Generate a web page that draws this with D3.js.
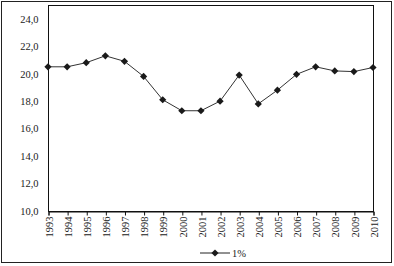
<!DOCTYPE html>
<html>
<head>
<meta charset="utf-8">
<script src="https://cdn.jsdelivr.net/npm/d3@7"></script>
<style>
body { margin: 0; background: #fff; }
svg text { font-family: "Liberation Serif", "Times New Roman", serif; fill: #222; }
</style>
</head>
<body>
<svg id="chart" width="394" height="266"></svg>
<script>
var years = [1993, 1994, 1995, 1996, 1997, 1998, 1999, 2000, 2001, 2002,
	2003, 2004, 2005, 2006, 2007, 2008, 2009, 2010];
var values = [20.5, 20.5, 20.8, 21.3, 20.9, 19.8, 18.1, 17.3, 17.3, 18.0,
	19.9, 17.8, 18.8, 19.95, 20.5, 20.2, 20.15, 20.45];
var yTicks = [10, 12, 14, 16, 18, 20, 22, 24];
var seriesName = '1%';

var svg = d3.select('#chart');

var startx = 48, endx = 373;
var starty = 5, endy = 211;

// outer frame
svg.append('rect')
	.attr('x', 1.5).attr('y', 1.5)
	.attr('width', 390).attr('height', 261)
	.attr('fill', 'none')
	.attr('stroke', '#222')
	.attr('stroke-width', 1);

var xscale = d3.scalePoint()
	.domain(years)
	.range([startx, endx]);

var yscale = d3.scaleLinear()
	.domain([10, 25])
	.range([endy, starty]);

// plot box
svg.append('rect')
	.attr('x', startx + 0.5).attr('y', starty + 0.5)
	.attr('width', endx - startx).attr('height', endy - starty)
	.attr('fill', 'none')
	.attr('stroke', '#111')
	.attr('stroke-width', 1);

var yaxis = d3.axisLeft(yscale)
	.tickValues(yTicks)
	.tickSize(0)
	.tickPadding(10)
	.tickFormat(d => d3.format('.1f')(d).replace('.', ','));

var gy = svg.append('g')
	.attr('transform', 'translate(' + (startx + 0.5) + ',0)')
	.call(yaxis);
gy.select('.domain').remove();
gy.selectAll('text').style('font-size', '10.5px');

var xaxis = d3.axisBottom(xscale)
	.tickSize(4)
	.tickPadding(4);

var gx = svg.append('g')
	.attr('transform', 'translate(0.5,' + (endy + 0.5) + ')')
	.call(xaxis);
gx.select('.domain').attr('stroke', '#111');
gx.selectAll('.tick line').attr('stroke', '#111');
gx.selectAll('text')
	.style('font-size', '10.5px')
	.attr('transform', 'rotate(-90)')
	.attr('text-anchor', 'end')
	.attr('x', -5)
	.attr('y', 0)
	.attr('dy', '0.35em');

var coords = years.map((d, i) => [d, values[i]]);

var line = d3.line()
	.x(d => xscale(d[0]))
	.y(d => yscale(d[1]));

svg.append('path')
	.datum(coords)
	.attr('d', line)
	.attr('fill', 'none')
	.attr('stroke', '#333')
	.attr('stroke-width', 1);

// square turned 45 degrees = wide diamond like Excel's marker
var diamond = d3.symbol().type(d3.symbolSquare).size(26);

svg.selectAll('.pt')
	.data(coords)
	.enter().append('path')
	.attr('class', 'pt')
	.attr('transform', d => 'translate(' + xscale(d[0]) + ',' + yscale(d[1]) + ') rotate(45)')
	.attr('d', diamond)
	.attr('fill', '#1a1a1a');

// legend
var lg = svg.append('g').attr('transform', 'translate(200,253)');
lg.append('line')
	.attr('x1', 0).attr('x2', 30)
	.attr('y1', 0).attr('y2', 0)
	.attr('stroke', '#222');
lg.append('path')
	.attr('transform', 'translate(15,0) rotate(45)')
	.attr('d', diamond)
	.attr('fill', '#1a1a1a');
lg.append('text')
	.attr('x', 32)
	.attr('y', 0)
	.attr('dy', '0.35em')
	.style('font-size', '10.5px')
	.text(seriesName);
</script>
</body>
</html>
